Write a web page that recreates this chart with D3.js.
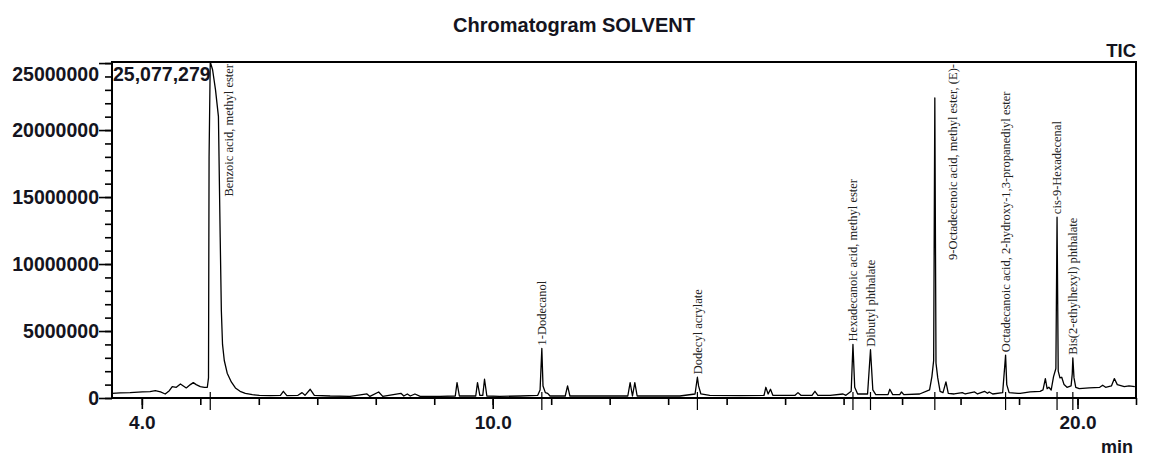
<!DOCTYPE html>
<html>
<head>
<meta charset="utf-8">
<script src="https://cdn.jsdelivr.net/npm/d3@7"></script>
<style>
  html, body { margin: 0; padding: 0; background: #fff; }
  svg { display: block; }
</style>
</head>
<body>
<svg id="chart" width="1150" height="456"></svg>
<script>
// ---------- DATA (retention time in min, intensity in millions of counts) ----------
const traceTime = [
  3.49, 3.63, 3.80, 4.01, 4.14, 4.23, 4.32, 4.40, 4.47, 4.52, 4.59, 4.66, 4.71, 4.76, 4.83, 4.88, 4.93, 5.00, 5.07, 5.12,
  5.14, 5.15, 5.17, 5.21, 5.26, 5.31, 5.34, 5.36, 5.38, 5.41, 5.46, 5.53, 5.60, 5.68, 5.77, 5.89, 6.01, 6.20, 6.37, 6.42,
  6.48, 6.67, 6.74, 6.79, 6.88, 6.95, 7.22, 7.56, 7.85, 7.90, 8.05, 8.12, 8.43, 8.48, 8.54, 8.59, 8.67, 8.76, 9.10, 9.36,
  9.39, 9.43, 9.71, 9.74, 9.78, 9.83, 9.86, 9.90, 10.12, 10.47, 10.77, 10.81, 10.84, 10.86, 10.90, 10.94, 10.98, 11.24, 11.28, 11.32,
  11.66, 12.01, 12.31, 12.35, 12.39, 12.43, 12.47, 12.86, 13.20, 13.46, 13.50, 13.52, 13.56, 13.71, 14.23, 14.64, 14.67, 14.71, 14.75, 14.79,
  15.17, 15.22, 15.27, 15.46, 15.51, 15.56, 15.77, 15.99, 16.04, 16.13, 16.16, 16.19, 16.24, 16.41, 16.46, 16.50, 16.55, 16.76, 16.79, 16.84,
  16.96, 16.99, 17.03, 17.30, 17.47, 17.51, 17.54, 17.56, 17.58, 17.61, 17.65, 17.70, 17.75, 17.79, 17.89, 18.03, 18.08, 18.24, 18.29, 18.41,
  18.46, 18.49, 18.55, 18.72, 18.77, 18.79, 18.83, 18.98, 19.02, 19.19, 19.36, 19.41, 19.45, 19.48, 19.51, 19.55, 19.59, 19.63, 19.65, 19.67,
  19.70, 19.73, 19.77, 19.82, 19.89, 19.91, 19.92, 19.94, 19.97, 20.03, 20.20, 20.38, 20.43, 20.48, 20.58, 20.63, 20.68, 20.80, 20.88, 20.98
];
const traceIntensity = [
  0.35, 0.38, 0.40, 0.45, 0.48, 0.55, 0.45, 0.30, 0.55, 0.85, 0.80, 1.05, 0.90, 0.75, 1.00, 1.15, 1.00, 0.85, 0.80, 0.80,
  1.50, 18.0, 25.08, 24.5, 23.0, 21.0, 12.0, 6.5, 4.0, 2.8, 1.85, 1.20, 0.75, 0.50, 0.35, 0.25, 0.20, 0.18, 0.20, 0.50,
  0.18, 0.20, 0.40, 0.20, 0.65, 0.20, 0.15, 0.12, 0.30, 0.12, 0.45, 0.12, 0.35, 0.15, 0.30, 0.15, 0.30, 0.12, 0.12, 0.15,
  1.15, 0.15, 0.15, 1.15, 0.20, 0.20, 1.40, 0.15, 0.12, 0.15, 0.20, 0.60, 3.70, 0.90, 0.40, 0.35, 0.15, 0.15, 0.90, 0.15,
  0.15, 0.15, 0.15, 1.15, 0.15, 1.15, 0.15, 0.15, 0.15, 0.30, 1.55, 0.90, 0.30, 0.20, 0.18, 0.20, 0.80, 0.30, 0.65, 0.20,
  0.20, 0.40, 0.20, 0.20, 0.50, 0.20, 0.20, 0.30, 0.20, 0.50, 4.00, 0.80, 0.30, 0.30, 3.60, 0.60, 0.25, 0.25, 0.65, 0.25,
  0.25, 0.45, 0.25, 0.30, 0.60, 1.60, 2.80, 22.4, 2.60, 1.50, 0.50, 0.40, 1.20, 0.35, 0.30, 0.40, 0.30, 0.45, 0.30, 0.50,
  0.35, 0.45, 0.30, 0.40, 3.20, 1.00, 0.40, 0.35, 0.35, 0.45, 0.50, 0.60, 1.45, 0.70, 0.80, 0.60, 1.60, 2.20, 13.5, 2.00,
  1.50, 1.55, 1.00, 0.80, 0.90, 1.80, 3.00, 1.50, 0.80, 0.70, 0.75, 0.80, 0.95, 0.80, 0.90, 1.45, 1.00, 0.85, 0.90, 0.85
];

const peakNames = [
  "Benzoic acid, methyl ester",
  "1-Dodecanol",
  "Dodecyl acrylate",
  "Hexadecanoic acid, methyl ester",
  "Dibutyl phthalate",
  "9-Octadecenoic acid, methyl ester, (E)-",
  "Octadecanoic acid, 2-hydroxy-1,3-propanediyl ester",
  "cis-9-Hexadecenal",
  "Bis(2-ethylhexyl) phthalate"
];
const peakTimes   = [5.17, 10.84, 13.50, 16.16, 16.46, 17.56, 18.77, 19.65, 19.92];
const peakHeights = [25.08, 3.70, 1.55, 4.00, 3.60, 22.4, 3.20, 13.5, 3.00];

const yMajorTicks = [0, 5, 10, 15, 20, 25];        // millions
const xMajorTicks = [4, 10, 20];                    // min
const maxLabel = "25,077,279";
const chartTitle = "Chromatogram SOLVENT";

// ---------- LAYOUT ----------
const plot = { left: 112, right: 1136, top: 62, bottom: 398 };
const svg = d3.select("#chart");
const sansBold = "'Liberation Sans', Arial, sans-serif";
const ink = "#141420";

const x = d3.scaleLinear().domain([3.49, 21.0]).range([plot.left, plot.right]);
const y = d3.scaleLinear().domain([0, 25.08]).range([plot.bottom, plot.top]);

// Title
svg.append("text")
  .attr("x", 574).attr("y", 32)
  .attr("text-anchor", "middle")
  .attr("font-family", sansBold).attr("font-weight", "bold").attr("font-size", 20)
  .attr("fill", ink)
  .text(chartTitle);

// TIC
svg.append("text")
  .attr("x", plot.right).attr("y", 57)
  .attr("text-anchor", "end")
  .attr("font-family", sansBold).attr("font-weight", "bold").attr("font-size", 18.5)
  .attr("fill", ink)
  .text("TIC");

// Y minor ticks
const yMinor = svg.append("g").attr("transform", `translate(${plot.left},0)`)
  .call(d3.axisLeft(y).tickValues(d3.range(0, 26, 1)).tickSize(7).tickFormat(""));
yMinor.select(".domain").remove();
yMinor.selectAll("line").attr("stroke", "#000").attr("stroke-width", 1.6);

// Y major axis
const yAxis = svg.append("g").attr("transform", `translate(${plot.left},0)`)
  .call(d3.axisLeft(y).tickValues(yMajorTicks).tickSize(13).tickPadding(0)
    .tickFormat(d => d3.format("d")(d * 1e6)));
yAxis.select(".domain").remove();
yAxis.selectAll("line").attr("stroke", "#000").attr("stroke-width", 1.6);
yAxis.selectAll("text")
  .attr("font-family", sansBold).attr("font-weight", "bold").attr("font-size", 19.5)
  .attr("fill", ink)
  .attr("dy", d => (y(d) - plot.top < 10) ? "0.9em" : "0.34em");

// X minor ticks
const xMinor = svg.append("g").attr("transform", `translate(0,${plot.bottom})`)
  .call(d3.axisBottom(x).tickValues(d3.range(4, 21.01, 1)).tickSize(7).tickFormat(""));
xMinor.select(".domain").remove();
xMinor.selectAll("line").attr("stroke", "#000").attr("stroke-width", 1.6);

// X major axis
const xAxis = svg.append("g").attr("transform", `translate(0,${plot.bottom})`)
  .call(d3.axisBottom(x).tickValues(xMajorTicks).tickSize(11).tickFormat(d3.format(".1f")));
xAxis.select(".domain").remove();
xAxis.selectAll("line").attr("stroke", "#000").attr("stroke-width", 1.6);
xAxis.selectAll("text")
  .attr("font-family", sansBold).attr("font-weight", "bold").attr("font-size", 19)
  .attr("fill", ink)
  .attr("y", 31).attr("dy", 0);

// min label
svg.append("text")
  .attr("x", 1133).attr("y", 453)
  .attr("text-anchor", "end")
  .attr("font-family", sansBold).attr("font-weight", "bold").attr("font-size", 18)
  .attr("fill", ink)
  .text("min");

// Peak markers across the baseline
svg.append("g").selectAll("line").data(peakTimes).join("line")
  .attr("x1", d => x(d)).attr("x2", d => x(d))
  .attr("y1", plot.bottom - 6).attr("y2", plot.bottom + 12)
  .attr("stroke", "#000").attr("stroke-width", 1.2);

// Trace
const pts = traceTime.map((t, i) => [t, traceIntensity[i]]);
svg.append("path")
  .datum(pts)
  .attr("fill", "none")
  .attr("stroke", "#000")
  .attr("stroke-width", 1.3)
  .attr("stroke-linejoin", "round")
  .attr("d", d3.line().x(d => x(d[0])).y(d => y(d[1])));

// Plot frame
svg.append("rect")
  .attr("x", plot.left).attr("y", plot.top)
  .attr("width", plot.right - plot.left).attr("height", plot.bottom - plot.top)
  .attr("fill", "none").attr("stroke", "#000").attr("stroke-width", 2);

// Max intensity label
svg.append("text")
  .attr("x", plot.left + 1).attr("y", 81)
  .attr("font-family", sansBold).attr("font-weight", "bold").attr("font-size", 19.5)
  .attr("fill", ink)
  .text(maxLabel);

// Peak labels (rotated)
const labels = svg.append("g");
peakNames.forEach((name, i) => {
  const px = x(peakTimes[i]);
  const py = y(peakHeights[i]);
  const t = labels.append("text")
    .attr("font-family", "'Liberation Serif', 'Times New Roman', serif")
    .attr("font-size", 12.5)
    .attr("fill", "#222")
    .attr("dy", "0.35em")
    .text(name);
  const len = t.node().getComputedTextLength();
  let lx = px, ly = py - 3;
  if (ly - len < plot.top + 2) {
    lx = px + 18;
    ly = plot.top + 2 + len;
  }
  t.attr("transform", `translate(${lx},${ly}) rotate(-90)`);
});
</script>
</body>
</html>
